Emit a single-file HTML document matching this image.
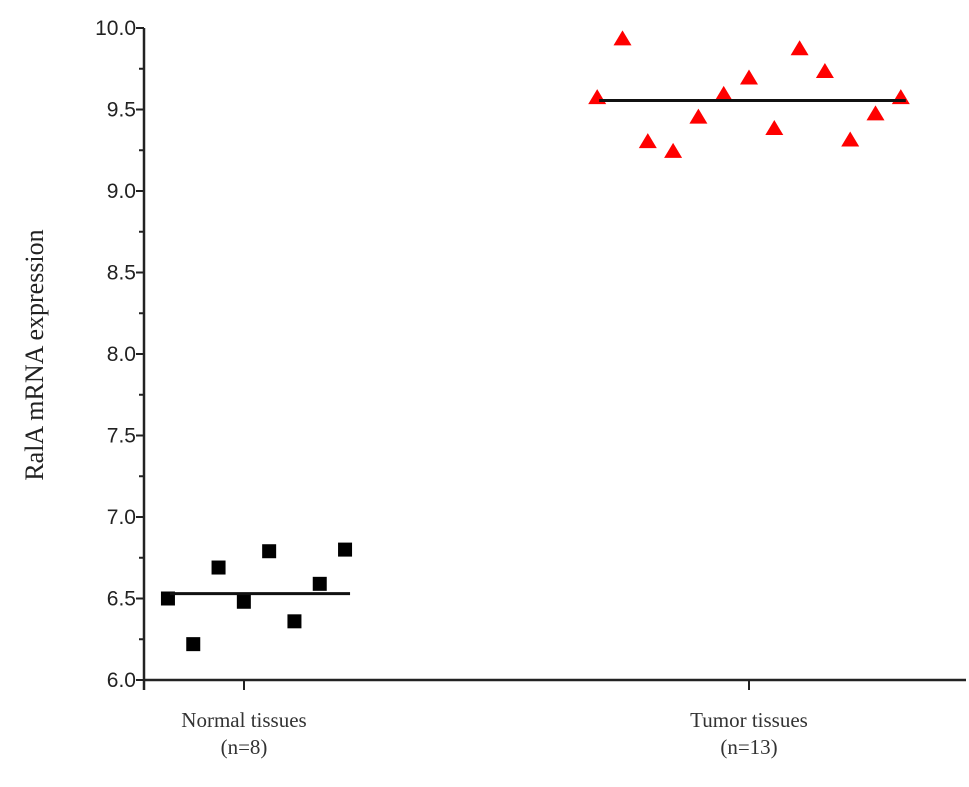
<!DOCTYPE html>
<html><head><meta charset="utf-8"><style>
body{margin:0;background:#fff;}
svg text{font-family:"Liberation Sans",sans-serif;}
</style></head><body>
<svg id="chart" width="969" height="782" xmlns="http://www.w3.org/2000/svg">
<g id="axes"></g><g id="marks"></g>
</svg>
<script>
const categories=["Normal tissues","Tumor tissues"];
const categoryN=["(n=8)","(n=13)"];
const normalValues=[6.50,6.22,6.69,6.48,6.79,6.36,6.59,6.80];
const tumorValues=[9.57,9.93,9.30,9.24,9.45,9.59,9.69,9.38,9.87,9.73,9.31,9.47,9.57];
const normalMean=6.53;
const tumorMean=9.555;
const yTicks=[6.0,6.5,7.0,7.5,8.0,8.5,9.0,9.5,10.0];

const NS="http://www.w3.org/2000/svg";
const axes=document.getElementById('axes'), marks=document.getElementById('marks');
const y0=680,y1=28,vmin=6,vmax=10;
function yS(v){return y0-(v-vmin)/(vmax-vmin)*(y0-y1);}
const c0=244,c1=749;
function xS(cat){return c0+cat*(c1-c0);}
const groupShift=[12.5,0];
const jit=25.3;
function mk(tag,attrs,parent){const e=document.createElementNS(NS,tag);for(const k in attrs)e.setAttribute(k,attrs[k]);parent.appendChild(e);return e;}
const AX=144;
let e=mk('line',{x1:AX,y1:y1,x2:AX,y2:690,stroke:'#222','stroke-width':2.5},axes);

e=mk('line',{x1:AX,y1:y0,x2:966,y2:y0,stroke:'#222','stroke-width':2.5},axes);

for(let v=vmin;v<=vmax+1e-9;v+=0.25){
 const major=Math.abs(v*2-Math.round(v*2))<1e-6;
 e=mk('line',{x1:AX-(major?8:5),y1:yS(v),x2:AX,y2:yS(v),stroke:'#222','stroke-width':2},axes);
 
}
yTicks.forEach(v=>{
 const t=mk('text',{x:AX-8,y:yS(v)+7,'text-anchor':'end','font-size':21,fill:'#222'},axes);
 t.textContent=v.toFixed(1);
 
});
categories.forEach((c,i)=>{
 e=mk('line',{x1:xS(i),y1:y0,x2:xS(i),y2:y0+10,stroke:'#222','stroke-width':2},axes);
 
 const t=mk('text',{x:xS(i),y:727,'text-anchor':'middle','font-size':21,fill:'#333',style:'font-family:"Liberation Serif",serif'},axes);
 t.textContent=c;
 
 const t2=mk('text',{x:xS(i),y:754,'text-anchor':'middle','font-size':21,fill:'#333',style:'font-family:"Liberation Serif",serif'},axes);
 t2.textContent=categoryN[i];
 
});
const yt=mk('text',{x:0,y:0,transform:'translate(43,355) rotate(-90)','text-anchor':'middle','font-size':26,fill:'#222',style:'font-family:"Liberation Serif",serif'},axes);
yt.textContent='RalA mRNA  expression';


function cx(cat,i,n){return xS(cat)+groupShift[cat]+(i-(n-1)/2)*jit;}
function meanLine(cat,n,m){
 const l=mk('line',{x1:cx(cat,0,n)+2,y1:yS(m),x2:cx(cat,n-1,n)+5,y2:yS(m),stroke:'#111','stroke-width':3},marks);
 
}
normalValues.forEach((v,i)=>{
 const x=cx(0,i,normalValues.length);
 const r=mk('rect',{x:x-7,y:yS(v)-7,width:14,height:14,fill:'#000'},marks);
 
});
tumorValues.forEach((v,i)=>{
 const x=cx(1,i,tumorValues.length), y=yS(v);
 const p=mk('polygon',{points:`${x},${y-9} ${x-9},${y+6} ${x+9},${y+6}`,fill:'#f00'},marks);
 
});
meanLine(0,normalValues.length,normalMean);
meanLine(1,tumorValues.length,tumorMean);
</script>
</body></html>
